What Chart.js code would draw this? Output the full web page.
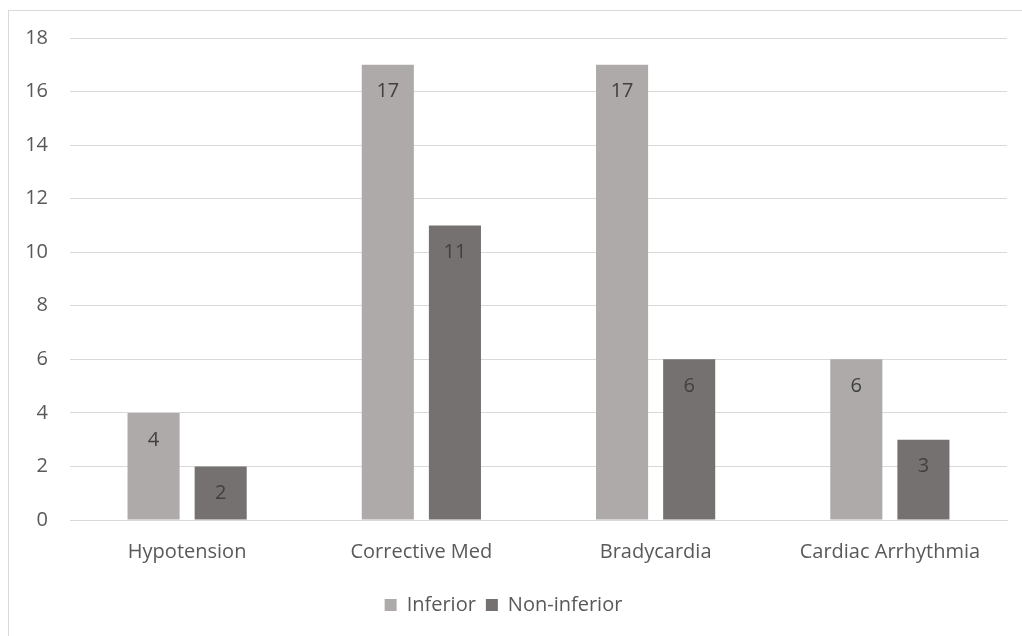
<!DOCTYPE html>
<html>
<head>
<meta charset="utf-8">
<script src="https://cdn.jsdelivr.net/npm/chart.js@4"></script>
<style>
  html, body { margin: 0; padding: 0; background: #fff; overflow: hidden; }
  #wrap { position: relative; width: 1022px; height: 636px; }
  #frame { position: absolute; left: 8px; top: 10px; width: 1100px; height: 700px;
           border-top: 1px solid #d9d9d9; border-left: 1px solid #d9d9d9; }
  canvas { position: absolute; left: 0; top: 0; }
</style>
</head>
<body>
<div id="wrap">
  <div id="frame"></div>
  <canvas id="myChart" width="1022" height="636"></canvas>
</div>
<script>
const categories = ['Hypotension', 'Corrective Med', 'Bradycardia', 'Cardiac Arrhythmia'];
const inferior = [4, 17, 17, 6];
const nonInferior = [2, 11, 6, 3];
const yTicks = { min: 0, max: 18, step: 2 };

// labels drawn inside the top of each bar
const barLabels = {
    id: 'barLabels',
    afterDatasetsDraw(chart) {
        const ctx = chart.ctx;
        ctx.save();
        ctx.font = '20px "Open Sans"';
        ctx.fillStyle = '#404040';
        ctx.textAlign = 'center';
        ctx.textBaseline = 'middle';
        chart.data.datasets.forEach((ds, i) => {
            chart.getDatasetMeta(i).data.forEach((bar, j) => {
                ctx.fillText(ds.data[j], bar.x, bar.y + 27);
            });
        });
        ctx.restore();
    }
};

document.addEventListener('DOMContentLoaded', function() {
    const ctx = document.getElementById('myChart').getContext('2d');
    new Chart(ctx, {
        type: 'bar',
        data: {
            labels: categories,
            datasets: [
                { label: 'Inferior', data: inferior, backgroundColor: '#aeaaaa',
                  categoryPercentage: 0.573, barPercentage: 0.776 },
                { label: 'Non-inferior', data: nonInferior, backgroundColor: '#767171',
                  categoryPercentage: 0.573, barPercentage: 0.776 }
            ]
        },
        options: {
            responsive: false,
            animation: false,
            layout: { padding: { left: 0, right: 15, top: 38, bottom: 11 } },
            font: { family: '"Open Sans"' },
            scales: {
                x: {
                    afterFit(scale) { scale.height += 9; },
                    grid: { display: false },
                    border: { color: '#d9d9d9' },
                    ticks: { color: '#595959', font: { family: '"Open Sans"', size: 20 }, padding: 12 }
                },
                y: {
                    min: yTicks.min,
                    max: yTicks.max,
                    afterFit(scale) { scale.width = 70; },
                    border: { display: false },
                    grid: { color: '#d9d9d9', drawTicks: false },
                    ticks: { stepSize: yTicks.step, color: '#595959',
                             font: { family: '"Open Sans"', size: 20 }, padding: 22 }
                }
            },
            plugins: {
                legend: {
                    position: 'bottom',
                    labels: { color: '#595959', font: { family: '"Open Sans"', size: 20 },
                              boxWidth: 12, boxHeight: 12, padding: 10 }
                },
                tooltip: { enabled: false }
            }
        },
        plugins: [barLabels]
    });
});
</script>
</body>
</html>
